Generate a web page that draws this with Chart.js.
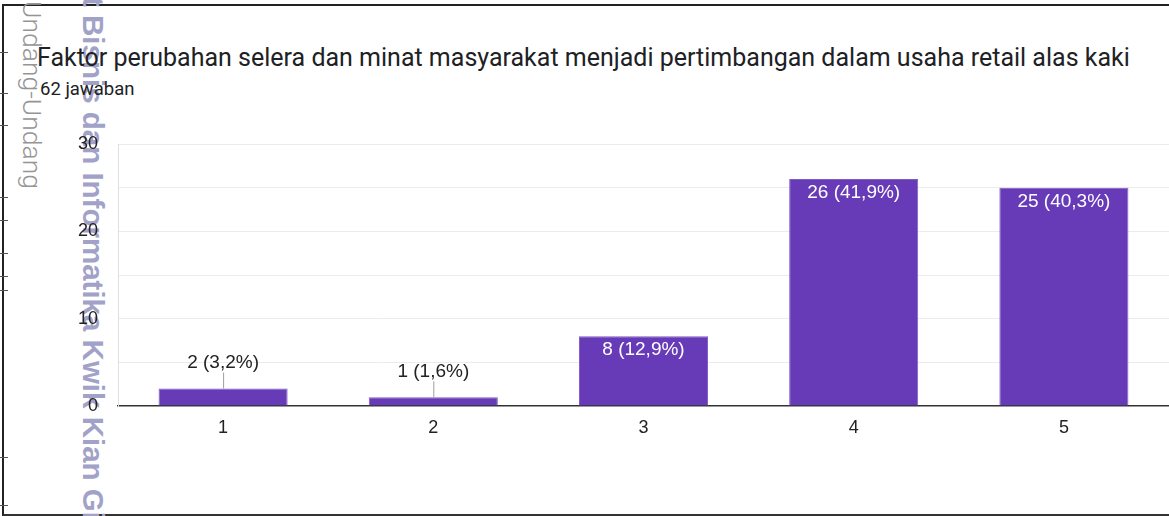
<!DOCTYPE html>
<html>
<head>
<meta charset="utf-8">
<script src="https://cdn.jsdelivr.net/npm/chart.js@4.4.1/dist/chart.umd.min.js"></script>
<style>
  html, body { margin: 0; padding: 0; background: #fff; }
  #page { position: relative; width: 1169px; height: 516px; overflow: hidden; background: #fff; }
  #frame {
    position: absolute; left: 2px; top: 4px; width: 1170px; height: 508px;
    border-top: 2px solid #222; border-left: 2px solid #222; border-bottom: 2px solid #333;
  }
  .mark { position: absolute; left: 0; width: 8px; height: 1px; background: #555; }
  .wm { position: absolute; top: 0; writing-mode: vertical-rl; white-space: pre; }
  #wm1 { left: 17px; top: 1px; font: 300 26.5px "Roboto", "Liberation Sans", sans-serif; color: #959595; }
  #wm2 { left: 76px; top: -3px; font: bold 29.5px "Liberation Sans", Arial, sans-serif; color: #a2a2c9; }
  #title { position: absolute; left: 37px; top: 43px; font: 25px "Roboto", sans-serif; color: #202124; white-space: nowrap; }
  #sub { position: absolute; left: 40px; top: 78px; font: 18.5px "Roboto", sans-serif; color: #202124; }
  #chart { position: absolute; left: 0; top: 0; }
</style>
</head>
<body>
<div id="page">
  <div id="frame"></div>
  <div class="wm" id="wm1">Undang-Undang</div>
  <div class="wm" id="wm2">t Bisnis dan Informatika Kwik Kian Gie</div>
  <div id="title">Faktor perubahan selera dan minat masyarakat menjadi pertimbangan dalam usaha retail alas kaki</div>
  <div id="sub">62 jawaban</div>
  <canvas id="chart" width="1169" height="516"></canvas>
</div>
<script>
// survey answers (scale 1-5)
const categories = ['1', '2', '3', '4', '5'];
const counts = [2, 1, 8, 26, 25];
const yTicks = [0, 10, 20, 30];

// little dashes along the left edge of the scanned page
const edgeMarks = [52, 93, 125, 197, 220, 253, 276, 290, 457, 505];
const page = document.getElementById('page');
edgeMarks.forEach(y => {
    const m = document.createElement('div');
    m.className = 'mark';
    m.style.top = y + 'px';
    page.appendChild(m);
});

const total = counts.reduce((a, b) => a + b, 0);
const labelText = v => `${v} (${(v / total * 100).toFixed(1).replace('.', ',')}%)`;
const FONT = '"Liberation Sans", Arial, sans-serif';

// value labels: inside the bar (white) when tall enough, otherwise above with a leader line
const barLabels = {
    id: 'barLabels',
    afterDatasetsDraw(chart) {
        const ctx = chart.ctx;
        const meta = chart.getDatasetMeta(0);
        ctx.save();
        ctx.font = '19px ' + FONT;
        ctx.textAlign = 'center';
        ctx.textBaseline = 'middle';
        meta.data.forEach((bar, i) => {
            const v = counts[i];
            const h = bar.base - bar.y;
            if (h > 30) {
                ctx.fillStyle = '#ffffff';
                ctx.fillText(labelText(v), bar.x, bar.y + 14);
            } else {
                ctx.strokeStyle = '#9e9e9e';
                ctx.lineWidth = 1;
                ctx.beginPath();
                ctx.moveTo(bar.x + 0.5, bar.y);
                ctx.lineTo(bar.x + 0.5, bar.y - 16);
                ctx.stroke();
                ctx.fillStyle = '#222222';
                ctx.fillText(labelText(v), bar.x, bar.y - 26);
            }
        });
        ctx.restore();
    }
};

new Chart(document.getElementById('chart'), {
    type: 'bar',
    data: {
        labels: categories,
        datasets: [{
            data: counts,
            backgroundColor: '#673ab7',
            borderColor: '#7c5cc6',
            borderWidth: 1,
            categoryPercentage: 1,
            barPercentage: 0.614
        }]
    },
    options: {
        responsive: false,
        animation: false,
        layout: { padding: { top: 144, left: 0, right: 0, bottom: 0 } },
        plugins: {
            legend: { display: false },
            tooltip: { enabled: false }
        },
        scales: {
            x: {
                afterFit: s => { s.height = 110; },
                grid: { display: false, drawTicks: false },
                border: { display: true, color: '#333333', width: 1.5 },
                ticks: {
                    color: '#222222',
                    padding: 11,
                    font: { family: FONT, size: 18 }
                }
            },
            y: {
                min: 0,
                max: 30,
                afterFit: s => { s.width = 118; },
                grid: {
                    drawTicks: false,
                    color: ctx => ctx.tick && ctx.tick.value === 0 ? 'rgba(0,0,0,0)' : '#ebebeb'
                },
                border: { display: true, color: '#e0e0e0', width: 1 },
                ticks: {
                    stepSize: 5,
                    padding: 20,
                    color: '#222222',
                    font: { family: FONT, size: 18 },
                    callback: v => yTicks.includes(v) ? v : ''
                }
            }
        }
    },
    plugins: [barLabels]
});
</script>
</body>
</html>
